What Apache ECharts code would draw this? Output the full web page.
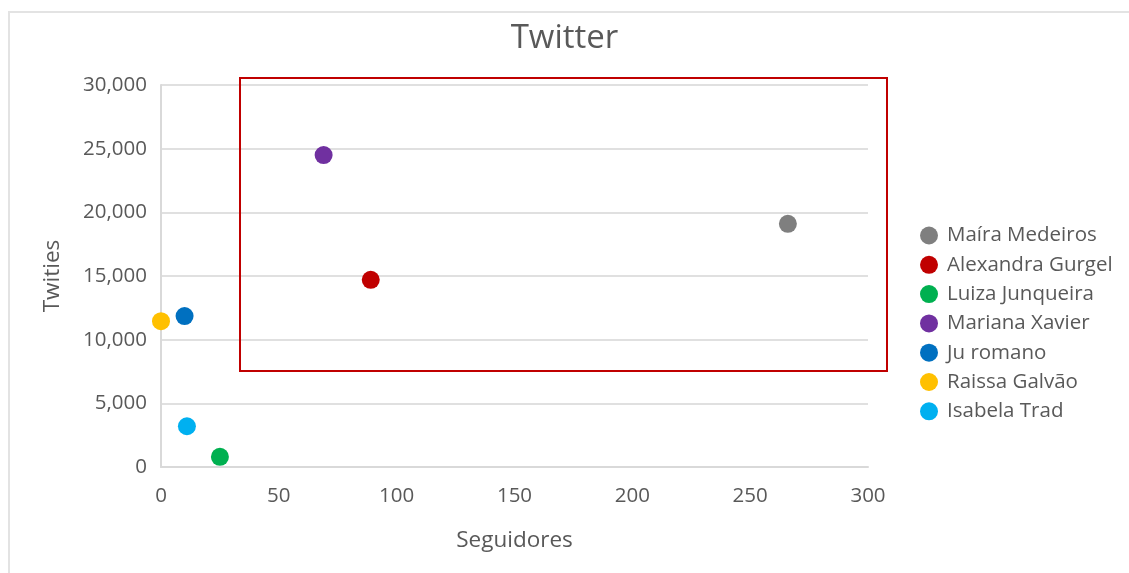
<!DOCTYPE html>
<html><head><meta charset="utf-8">
<script src="https://cdn.jsdelivr.net/npm/echarts@6/dist/echarts.min.js"></script>
<style>html,body{margin:0;padding:0;background:#fff;}#c{width:1129px;height:573px;}</style>
</head><body><div id="c"></div>
<script>
const names = ['Maíra Medeiros','Alexandra Gurgel','Luiza Junqueira','Mariana Xavier','Ju romano','Raissa Galvão','Isabela Trad'];
const seguidores = [266, 89, 25, 69, 10, 0, 11];
const twities = [19100, 14700, 800, 24500, 11850, 11450, 3200];
const colors = ['#7f7f7f','#c00000','#00b050','#7030a0','#0070c0','#ffc000','#00b0f0'];
const xTicks = {min:0, max:300, interval:50};
const yTicks = {min:0, max:30000, interval:5000};
const font = '"Open Sans", "Noto Sans", sans-serif';
const chart = echarts.init(document.getElementById('c'));
chart.setOption({
  animation:false,
  backgroundColor:'#fff',
  textStyle:{fontFamily:font},
  title:{text:'Twitter', left:'center', top:17, textStyle:{fontFamily:font, fontSize:33, fontWeight:'normal', color:'#595959'}},
  grid:{left:161, top:85, width:707, height:382},
  legend:{orient:'vertical', left:915, top:220, itemWidth:18, itemHeight:18, itemGap:8.3, icon:'circle',
    textStyle:{fontFamily:font, fontSize:20.5, color:'#595959', padding:[0,0,0,4]}, data:names},
  xAxis:{type:'value', min:xTicks.min, max:xTicks.max, interval:xTicks.interval,
    name:'Seguidores', nameLocation:'middle', nameGap:62,
    nameTextStyle:{fontFamily:font, fontSize:22.5, color:'#595959'},
    axisLine:{show:true, lineStyle:{color:'#d9d9d9', width:2}}, axisTick:{show:false},
    splitLine:{show:false},
    axisLabel:{fontFamily:font, fontSize:20.5, color:'#595959', margin:19}},
  yAxis:{type:'value', min:yTicks.min, max:yTicks.max, interval:yTicks.interval,
    name:'Twities', nameLocation:'middle', nameGap:97, nameRotate:90,
    nameTextStyle:{fontFamily:font, fontSize:22.5, color:'#595959'},
    axisLine:{show:true, lineStyle:{color:'#d9d9d9', width:2}}, axisTick:{show:false},
    splitLine:{show:true, lineStyle:{color:'#e0e0e0', width:2}},
    axisLabel:{fontFamily:font, fontSize:20.5, color:'#595959', margin:14,
      formatter:v=>v.toLocaleString('en-US')}},
  series: names.map((n,i)=>({
    type:'scatter', name:n, symbol:'circle', symbolSize:18,
    itemStyle:{color:colors[i], opacity:1},
    data:[[seguidores[i], twities[i]]]
  })),
  graphic:[
    {type:'rect', z:-1, shape:{x:9, y:12, width:1200, height:700}, style:{fill:'none', stroke:'#e3e3e3', lineWidth:2}},
    {type:'rect', z:10, shape:{x:240, y:78, width:647, height:293}, style:{fill:'none', stroke:'#c00000', lineWidth:2}}
  ]
});
</script></body></html>
